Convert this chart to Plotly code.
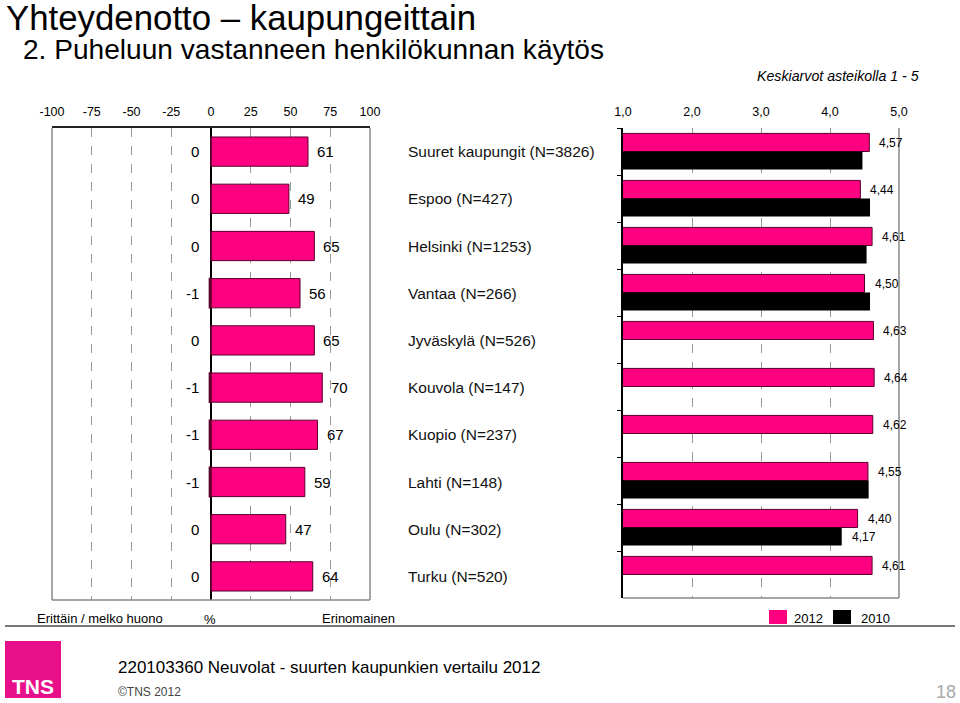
import plotly.graph_objects as go

# ---- data ----
categories = ["Suuret kaupungit (N=3826)", "Espoo (N=427)", "Helsinki (N=1253)",
              "Vantaa (N=266)", "Jyväskylä (N=526)", "Kouvola (N=147)",
              "Kuopio (N=237)", "Lahti (N=148)", "Oulu (N=302)", "Turku (N=520)"]
neg_share = [0, 0, 0, -1, 0, -1, -1, -1, 0, 0]          # Erittäin / melko huono
pos_share = [61, 49, 65, 56, 65, 70, 67, 59, 47, 64]     # Erinomainen
mean_2012 = [4.57, 4.44, 4.61, 4.50, 4.63, 4.64, 4.62, 4.55, 4.40, 4.61]
mean_2010 = [4.47, 4.58, 4.53, 4.58, None, None, None, 4.56, 4.17, None]
labelled_2010 = [None, None, None, None, None, None, None, None, 4.17, None]
left_ticks = [-100, -75, -50, -25, 0, 25, 50, 75, 100]
right_ticks = [1.0, 2.0, 3.0, 4.0, 5.0]
right_ticktext = ["1,0", "2,0", "3,0", "4,0", "5,0"]

PINK = "#FF0080"
EDGE = "#5A002C"
FONT = "Arial, Liberation Sans, sans-serif"

fig = go.Figure()

# left diverging bars
fig.add_trace(go.Bar(y=categories, x=pos_share, orientation="h", width=0.62,
                     marker=dict(color=PINK, line=dict(color=EDGE, width=1)),
                     xaxis="x", yaxis="y", showlegend=False, hoverinfo="x+y"))
fig.add_trace(go.Bar(y=categories, x=neg_share, orientation="h", width=0.62,
                     marker=dict(color=PINK, line=dict(color=EDGE, width=1.5)),
                     xaxis="x", yaxis="y", showlegend=False, hoverinfo="x+y"))

# right mean bars
fig.add_trace(go.Bar(y=categories, x=mean_2012, orientation="h",
                     width=0.385, offset=-0.385, name="2012",
                     marker=dict(color=PINK, line=dict(color=EDGE, width=1)),
                     xaxis="x2", yaxis="y2", showlegend=False))
fig.add_trace(go.Bar(y=categories, x=mean_2010, orientation="h", width=0.385, offset=0,
                     name="2010",
                     marker=dict(color="#000000", line=dict(color="#000000", width=0)),
                     xaxis="x2", yaxis="y2", showlegend=False))

ann = []
for c, n, p in zip(categories, neg_share, pos_share):
    ann.append(dict(x=p, y=c, xref="x", yref="y", text=str(p), showarrow=False,
                    xanchor="left", xshift=7, font=dict(size=15, color="#000")))
    ann.append(dict(x=0, y=c, xref="x", yref="y", text=str(n), showarrow=False,
                    xanchor="right", xshift=-10, font=dict(size=15, color="#000")))
    ann.append(dict(x=406 / 960, y=c, xref="paper", yref="y", text=c, showarrow=False,
                    xanchor="left", font=dict(size=15.5, color="#111")))
for c, m in zip(categories, mean_2012):
    ann.append(dict(x=m, y=c, xref="x2", yref="y2", text=f"{m:.2f}".replace(".", ","),
                    showarrow=False, xanchor="left", xshift=8, yshift=9,
                    font=dict(size=12, color="#000")))
for c, m in zip(categories, labelled_2010):
    if m is not None:
        ann.append(dict(x=m, y=c, xref="x2", yref="y2", text=f"{m:.2f}".replace(".", ","),
                        showarrow=False, xanchor="left", xshift=8, yshift=-9,
                        font=dict(size=12, color="#000")))

# titles and texts
texts = [
    dict(x=4, y=17, text="Yhteydenotto – kaupungeittain", font=dict(size=34.8, color="#000")),
    dict(x=21, y=50, text="2. Puheluun vastanneen henkilökunnan käytös", font=dict(size=28.1, color="#000")),
    dict(x=921, y=76, text="<i>Keskiarvot asteikolla 1 - 5</i>", font=dict(size=14.2, color="#000"), xanchor="right"),
    dict(x=35, y=618, text="Erittäin / melko huono", font=dict(size=13, color="#000")),
    dict(x=202, y=619, text="%", font=dict(size=13, color="#000")),
    dict(x=320, y=618, text="Erinomainen", font=dict(size=13, color="#000")),
    dict(x=792, y=618, text="2012", font=dict(size=13, color="#000")),
    dict(x=859, y=618, text="2010", font=dict(size=13, color="#000")),
    dict(x=116, y=667, text="220103360 Neuvolat - suurten kaupunkien vertailu 2012", font=dict(size=17, color="#000")),
    dict(x=116, y=692, text="©TNS 2012", font=dict(size=12, color="#444")),
    dict(x=958, y=692, text="18", font=dict(size=18, color="#aaa"), xanchor="right"),
    dict(x=33, y=686, text="<b>TNS</b>", font=dict(size=21, color="#fff"), xanchor="center"),
]
for a in texts:
    a.setdefault("xanchor", "left")
    a.update(xref="paper", yref="paper", showarrow=False, yanchor="middle")
    a["x"] = a["x"] / 960
    a["y"] = 1 - a["y"] / 703
    a["font"]["family"] = FONT
ann += texts

def pline(x0, y0, x1, y1, color, width, dash="solid"):
    return dict(type="line", xref="paper", yref="paper", x0=x0 / 960, x1=x1 / 960,
                y0=1 - y0 / 703, y1=1 - y1 / 703, line=dict(color=color, width=width, dash=dash))

shapes = [
    # left frame
    dict(type="line", xref="x domain", yref="y domain", x0=0, x1=0, y0=0, y1=1, line=dict(color="#888", width=1.5)),
    dict(type="line", xref="x domain", yref="y domain", x0=1, x1=1, y0=0, y1=1, line=dict(color="#888", width=1.5)),
    dict(type="line", xref="x domain", yref="y domain", x0=0, x1=1, y0=0, y1=0, line=dict(color="#888", width=1.5)),
    # right frame
    dict(type="line", xref="x2 domain", yref="y2 domain", x0=1, x1=1, y0=0, y1=1, line=dict(color="#888", width=1.5)),
    dict(type="line", xref="x2 domain", yref="y2 domain", x0=0, x1=1, y0=0, y1=0, line=dict(color="#888", width=1.5)),
    # footer rule
    pline(5, 626, 955, 626, "#777", 2),
    # legend swatches
    dict(type="rect", xref="paper", yref="paper", x0=769 / 960, x1=787 / 960,
         y0=1 - 624 / 703, y1=1 - 610 / 703, fillcolor=PINK, line=dict(width=0)),
    dict(type="rect", xref="paper", yref="paper", x0=833 / 960, x1=851 / 960,
         y0=1 - 624 / 703, y1=1 - 610 / 703, fillcolor="#000", line=dict(width=0)),
    # logo
    dict(type="rect", xref="paper", yref="paper", x0=5 / 960, x1=61 / 960,
         y0=1 - 698 / 703, y1=1 - 641 / 703, fillcolor="#E8108A", line=dict(width=0), layer="below"),
]

ydom = [1 - 600 / 703, 1 - 128 / 703]
fig.update_layout(
    width=960, height=703, margin=dict(l=0, r=0, t=0, b=0, pad=0, autoexpand=False),
    paper_bgcolor="white", plot_bgcolor="white",
    font=dict(family=FONT, size=12, color="#000"),
    barmode="overlay", showlegend=False, separators=", ",
    xaxis=dict(domain=[52 / 960, 370 / 960], range=[-100, 100], side="top",
               tickvals=left_ticks, ticktext=[str(t) for t in left_ticks],
               tickfont=dict(size=12.5), ticks="", ticklabelstandoff=5,
               showgrid=True, gridcolor="#999",
               griddash="dash", gridwidth=1, zeroline=True, zerolinecolor="#000",
               zerolinewidth=2, showline=True, linecolor="#222", linewidth=1.5,
               automargin=False, fixedrange=True),
    yaxis=dict(domain=ydom, range=[9.5, -0.5], showticklabels=False, showgrid=False,
               zeroline=False, ticks="", automargin=False, fixedrange=True),
    xaxis2=dict(domain=[623 / 960, 899 / 960], range=[1, 5], side="top", anchor="y2",
                tickvals=right_ticks, ticktext=right_ticktext, tickfont=dict(size=12.5),
                ticks="", ticklabelstandoff=9,
                showgrid=True, gridcolor="#999", griddash="dash", gridwidth=1,
                zeroline=False, showline=False, automargin=False, fixedrange=True),
    yaxis2=dict(domain=[1 - 598 / 703, 1 - 128 / 703], range=[9.5, -0.5], anchor="x2",
                showticklabels=False, showgrid=False, zeroline=False,
                showline=True, linecolor="#000", linewidth=1.5, ticks="outside",
                ticklen=4, tickcolor="#000", tickson="boundaries", automargin=False,
                fixedrange=True),
    annotations=ann, shapes=shapes,
)
fig.write_html("out.html", config={"displayModeBar": False},
               post_script="document.body.style.margin='0px';")
